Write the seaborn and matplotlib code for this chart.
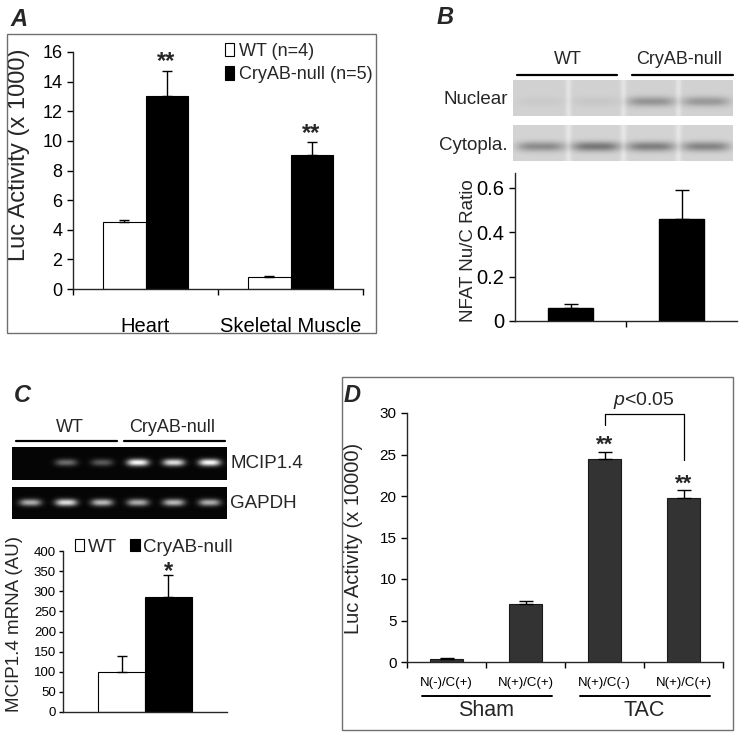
import matplotlib
matplotlib.use("Agg")
import matplotlib.pyplot as plt
import matplotlib.transforms as mtrans
from matplotlib.patches import Rectangle
from matplotlib.lines import Line2D
import seaborn as sns
import pandas as pd
import numpy as np

W, H = 743, 735

# ---- data ----
# A: luciferase activity
a_tissues = ["Heart", "Skeletal Muscle"]
a_genotypes = ["WT (n=4)", "CryAB-null (n=5)"]
a_wt = [4.5, 0.8]
a_wt_err = [0.15, 0.05]
a_ko = [13.0, 9.05]
a_ko_err = [1.75, 0.85]

# B: NFAT nuclear / cytoplasmic ratio
b_groups = ["WT", "CryAB-null"]
b_ratio = [0.06, 0.46]
b_ratio_err = [0.015, 0.13]
b_nuclear_bands = [0.03, 0.04, 0.24, 0.22]
b_cyto_bands = [0.28, 0.36, 0.33, 0.31]

# C: MCIP1.4 mRNA
c_groups = ["WT", "CryAB-null"]
c_mrna = [100, 285]
c_mrna_err = [40, 55]
c_mcip_bands = [0.0, 0.4, 0.33, 0.95, 0.85, 0.95]
c_gapdh_bands = [0.65, 0.85, 0.7, 0.65, 0.7, 0.65]

# D: luciferase activity after sham / TAC
d_surgery = ["Sham", "Sham", "TAC", "TAC"]
d_condition = ["N(-)/C(+)", "N(+)/C(+)", "N(+)/C(-)", "N(+)/C(+)"]
d_luc = [0.4, 7.0, 24.4, 19.7]
d_luc_err = [0.1, 0.3, 0.9, 1.0]

sns.set_theme(style="ticks")
plt.rcParams["font.family"] = ["Liberation Sans", "DejaVu Sans"]
plt.rcParams["mathtext.fontset"] = "custom"
plt.rcParams["mathtext.it"] = "Liberation Sans:italic"
plt.rcParams["mathtext.rm"] = "Liberation Sans"
plt.rcParams["axes.linewidth"] = 1.0
plt.rcParams["xtick.color"] = "black"
plt.rcParams["ytick.color"] = "black"

fig = plt.figure(figsize=(W / 100, H / 100), dpi=100)


def place(x0, y0, x1, y1):
    return fig.add_axes([x0 / W, 1 - y1 / H, (x1 - x0) / W, (y1 - y0) / H])


def fig_text(x, y, s, **kw):
    fig.text(x / W, 1 - y / H, s, **kw)


def fig_line(x0, x1, y, lw=1.6):
    fig.add_artist(Line2D([x0 / W, x1 / W], [1 - y / H, 1 - y / H], color="black", lw=lw,
                          transform=fig.transFigure))


def frame(x0, y0, x1, y1):
    fig.add_artist(Rectangle((x0 / W, 1 - y1 / H), (x1 - x0) / W, (y1 - y0) / H, fill=False,
                             edgecolor="#707070", lw=1.0, transform=fig.transFigure))


def add_err(ax, container, errs, capsize=3.5):
    for bar, e in zip(container, errs):
        xc = bar.get_x() + bar.get_width() / 2
        ax.errorbar(xc, bar.get_height(), yerr=[[0], [e]], fmt="none", ecolor="black",
                    elinewidth=1, capsize=capsize, capthick=1)


def band_image(strengths, w, h, band_y, band_w, band_h, bg, sign, stripes=0.0, xpow=4):
    yy, xx = np.mgrid[0:h, 0:w]
    img = np.full((h, w), bg, float)
    step = w / len(strengths)
    for i, s in enumerate(strengths):
        cx = (i + 0.5) * step
        prof = np.exp(-np.abs((xx - cx) / band_w) ** xpow) * np.exp(-((yy - band_y) / band_h) ** 2)
        img += sign * s * prof
        if stripes and i > 0:
            img += stripes * np.exp(-((xx - i * step) / 3.0) ** 2)
    return np.clip(img, 0, 1)


letter_kw = dict(fontsize=17, fontweight="bold", fontstyle="italic", ha="center", va="center")

# ================= A =================
frame(7, 34, 376, 333)
fig_text(19, 19, "A", **letter_kw)
axA = place(73, 52, 363, 289)
dfA = pd.DataFrame({
    "tissue": a_tissues * 2,
    "genotype": [a_genotypes[0]] * 2 + [a_genotypes[1]] * 2,
    "value": a_wt + a_ko,
})
sns.barplot(data=dfA, x="tissue", y="value", hue="genotype", order=a_tissues,
            hue_order=a_genotypes, palette=["white", "black"], saturation=1,
            edgecolor="black", linewidth=0.8, width=0.58, errorbar=None, legend=False, ax=axA)
add_err(axA, axA.containers[0], a_wt_err)
add_err(axA, axA.containers[1], a_ko_err)
for bar, e in zip(axA.containers[1], a_ko_err):
    axA.annotate("**", (bar.get_x() + bar.get_width() / 2, bar.get_height() + e),
                 xytext=(0, -2), textcoords="offset points", ha="center", va="bottom",
                 fontsize=17, fontweight="bold")
axA.set_ylim(0, 16)
axA.set_xlim(-0.5, 1.5)
axA.set_yticks(range(0, 17, 2))
axA.set_xticks([-0.5, 0.5, 1.5])
axA.set_xticklabels([])
axA.set_xticks(range(len(a_tissues)), minor=True)
axA.set_xticklabels(a_tissues, minor=True, fontsize=14.5)
axA.tick_params(axis="x", which="minor", length=0, pad=20)
axA.tick_params(axis="both", which="major", length=4, width=1, labelsize=13)
axA.set_xlabel("")
axA.set_ylabel("Luc Activity (x 1000)", fontsize=17)
axA.yaxis.set_label_coords(-0.148, 0.565)
sns.despine(ax=axA)
handlesA = [Rectangle((0, 0), 1, 1, facecolor=c, edgecolor="black", lw=0.8) for c in ["white", "black"]]
fig.legend(handlesA, a_genotypes, loc="upper left", bbox_to_anchor=(225 / W, 1 - 43 / H),
           frameon=False, fontsize=13, borderpad=0, borderaxespad=0, handlelength=0.5,
           handleheight=0.75, handletextpad=0.25, labelspacing=0.35)

# ================= B =================
fig_text(445, 18, "B", **letter_kw)
fig_text(568, 60, b_groups[0], fontsize=13, ha="center", va="center")
fig_text(679, 60, b_groups[1], fontsize=13, ha="center", va="center")
fig_line(517, 617, 75)
fig_line(632, 733, 75)
axBn = place(513, 80, 733, 116)
axBn.imshow(band_image(b_nuclear_bands, 220, 36, 21, 24, 5.0, 0.82, -1, stripes=0.07),
            cmap="gray", vmin=0, vmax=1, aspect="auto", interpolation="bilinear")
axBn.axis("off")
axBc = place(513, 125, 733, 161)
axBc.imshow(band_image(b_cyto_bands, 220, 36, 21, 24, 5.0, 0.83, -1, stripes=0.07),
            cmap="gray", vmin=0, vmax=1, aspect="auto", interpolation="bilinear")
axBc.axis("off")
fig_text(508, 99, "Nuclear", fontsize=13.5, ha="right", va="center")
fig_text(508, 145, "Cytopla.", fontsize=13.5, ha="right", va="center")

axB = place(515, 173, 737, 321)
dfB = pd.DataFrame({"group": b_groups, "ratio": b_ratio})
sns.barplot(data=dfB, x="group", y="ratio", color="black", saturation=1, width=0.4,
            edgecolor="black", errorbar=None, ax=axB)
add_err(axB, axB.containers[0], b_ratio_err, capsize=5)
axB.set_ylim(0, 0.667)
axB.set_xlim(-0.5, 1.5)
axB.set_yticks([0, 0.2, 0.4, 0.6])
axB.set_yticklabels(["0", "0.2", "0.4", "0.6"])
axB.set_xticks([0.5])
axB.set_xticklabels([])
axB.tick_params(axis="both", length=4, width=1, labelsize=14.5)
axB.set_xlabel("")
axB.set_ylabel("NFAT Nu/C Ratio", fontsize=13.5)
axB.yaxis.set_label_coords(-0.171, 0.473)
sns.despine(ax=axB)

# ================= C =================
fig_text(22, 395, "C", **letter_kw)
fig_text(70, 427, c_groups[0], fontsize=13, ha="center", va="center")
fig_text(172, 427, c_groups[1], fontsize=13, ha="center", va="center")
fig_line(16, 117, 441)
fig_line(124, 225, 441)
axCm = place(12, 447, 227, 480)
axCm.imshow(band_image(c_mcip_bands, 215, 33, 15, 11, 3.6, 0.02, 1, xpow=3),
            cmap="gray", vmin=0, vmax=1, aspect="auto", interpolation="bilinear")
axCm.axis("off")
axCg = place(12, 487, 227, 519)
axCg.imshow(band_image(c_gapdh_bands, 215, 32, 15, 11, 3.6, 0.02, 1, xpow=3),
            cmap="gray", vmin=0, vmax=1, aspect="auto", interpolation="bilinear")
axCg.axis("off")
fig_text(230, 464, "MCIP1.4", fontsize=13.5, ha="left", va="center")
fig_text(230, 503, "GAPDH", fontsize=13.5, ha="left", va="center")

axC = place(63, 551, 227, 712)
dfC = pd.DataFrame({"gene": ["MCIP1.4"] * 2, "group": c_groups, "mrna": c_mrna})
sns.barplot(data=dfC, x="gene", y="mrna", hue="group", hue_order=c_groups,
            palette=["white", "black"], saturation=1, edgecolor="black", linewidth=0.8,
            width=0.57, errorbar=None, legend=False, ax=axC)
add_err(axC, axC.containers[0], c_mrna_err[:1])
add_err(axC, axC.containers[1], c_mrna_err[1:])
ko_bar = axC.containers[1][0]
axC.annotate("*", (ko_bar.get_x() + ko_bar.get_width() / 2, c_mrna[1] + c_mrna_err[1]),
             xytext=(0, -6), textcoords="offset points", ha="center", va="bottom",
             fontsize=17, fontweight="bold")
axC.set_ylim(0, 400)
axC.set_xlim(-0.5, 0.5)
axC.set_yticks(range(0, 401, 50))
axC.set_xticks([])
axC.tick_params(axis="y", length=3, width=1, labelsize=9.5, pad=2)
axC.set_xlabel("")
axC.set_ylabel("MCIP1.4 mRNA (AU)", fontsize=13.5)
axC.yaxis.set_label_coords(-0.244, 0.547)
sns.despine(ax=axC)
handlesC = [Rectangle((0, 0), 1, 1, facecolor=c, edgecolor="black", lw=0.8) for c in ["white", "black"]]
fig.legend(handlesC, c_groups, loc="upper left", bbox_to_anchor=(75 / W, 1 - 539 / H), ncol=2,
           frameon=False, fontsize=13.5, borderpad=0, borderaxespad=0, handlelength=0.5,
           handleheight=0.6, handletextpad=0.2, columnspacing=0.7)

# ================= D =================
frame(342, 377, 733, 730)
fig_text(352, 395, "D", **letter_kw)
axD = place(407, 413, 723, 662)
dfD = pd.DataFrame({"key": [s + "|" + c for s, c in zip(d_surgery, d_condition)],
                    "luc": d_luc})
sns.barplot(data=dfD, x="key", y="luc", color="#333333", saturation=1, width=0.41,
            edgecolor="#1a1a1a", linewidth=0.8, errorbar=None, ax=axD)
add_err(axD, axD.containers[0], d_luc_err, capsize=5)
axD.set_ylim(0, 30)
axD.set_xlim(-0.5, len(d_luc) - 0.5)
axD.set_yticks(range(0, 31, 5))
axD.set_xticks(np.arange(len(d_luc) + 1) - 0.5)
axD.set_xticklabels([])
axD.set_xticks(range(len(d_luc)), minor=True)
axD.set_xticklabels(d_condition, minor=True, fontsize=9.5)
axD.tick_params(axis="x", which="minor", length=0, pad=11)
axD.tick_params(axis="both", which="major", length=4, width=1, labelsize=11)
axD.set_xlabel("")
axD.set_ylabel("Luc Activity (x 10000)", fontsize=14.5)
axD.yaxis.set_label_coords(-0.139, 0.498)
sns.despine(ax=axD)

# stars over TAC bars
for i in [2, 3]:
    axD.annotate("**", (i, d_luc[i] + d_luc_err[i]), xytext=(0, -3), textcoords="offset points",
                 ha="center", va="bottom", fontsize=16, fontweight="bold")
# significance bracket between TAC bars
top = 29.9
axD.plot([2, 2, 3, 3], [d_luc[2] + d_luc_err[2] + 3.2, top, top, d_luc[3] + d_luc_err[3] + 3.6],
         color="black", lw=0.9, clip_on=False)
axD.text(2.5, top + 1.6, "$p$<0.05", ha="center", va="center", fontsize=14)

# group underlines and labels
trD = mtrans.blended_transform_factory(axD.transData, axD.transAxes)
for grp in ["Sham", "TAC"]:
    idx = [i for i, s in enumerate(d_surgery) if s == grp]
    axD.plot([idx[0] - 0.31, idx[-1] + 0.33], [-0.137, -0.137], color="black", lw=1.4,
             transform=trD, clip_on=False)
    axD.text((idx[0] + idx[-1]) / 2, -0.195, grp, ha="center", va="center", fontsize=15.5,
             transform=trD)

fig.savefig("out.png", dpi=100, facecolor="white")
